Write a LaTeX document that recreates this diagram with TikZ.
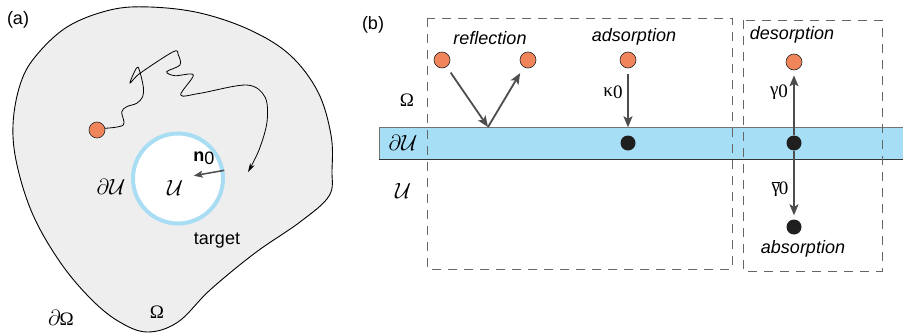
\documentclass[tikz,border=0pt]{standalone}
\usepackage{fix-cm}
\usepackage[no-math]{fontspec}
\setmainfont{Liberation Sans}
\newfontfamily\serifgr{Liberation Serif}
\usetikzlibrary{arrows.meta}
\definecolor{blobgray}{HTML}{EEEEEE}
\definecolor{ringblue}{HTML}{A9DDF3}
\definecolor{bandblue}{HTML}{A6DEF6}
\definecolor{dotorange}{HTML}{F0845A}
\definecolor{arrowgray}{HTML}{4D4D4D}
\definecolor{dashgray}{HTML}{666666}
\tikzset{
  lbl/.style={font=\fontsize{18}{21}\selectfont, inner sep=0pt},
  mlbl/.style={font=\fontsize{22}{25}\selectfont, inner sep=0pt},
  glbl/.style={font=\fontsize{19}{22}\selectfont\serifgr, inner sep=0pt},
  ilbl/.style={font=\fontsize{18}{21}\selectfont\itshape, inner sep=0pt},
  odot/.style={circle, fill=dotorange, draw=black!85, line width=0.6pt, minimum size=16pt, inner sep=0pt},
  bdot/.style={circle, fill=black!88, minimum size=15pt, inner sep=0pt},
  arr/.style={draw=arrowgray, line width=1.8pt, -{Stealth[length=11pt,width=9pt,inset=2.5pt]}},
  dbox/.style={draw=dashgray, line width=1pt, dash pattern=on 9pt off 7pt},
}
\begin{document}
\begin{tikzpicture}[x=1pt,y=-1pt]
\useasboundingbox (0,0) rectangle (903,335);
% ---------------- (a) ----------------
\node[lbl] (la) at (18,20) {(a)};
\draw[fill=blobgray, line width=0.9pt] plot[smooth cycle, tension=0.6] coordinates {
 (147,332) (118,321) (90,298) (60,262) (33,215) (17,165) (13,125) (20,85)
 (35,57) (67,27) (110,10) (150,7) (200,13) (250,30) (290,55) (318,92)
 (331,135) (332,170) (329,196) (300,222) (255,253) (210,290) (178,322)};
\node[circle, draw=ringblue, line width=4pt, fill=white, minimum size=90pt, inner sep=0pt] (target) at (178,178.5) {};
\node[odot] (walker) at (97,130) {};
\draw[line width=0.8pt, -{Stealth[length=9pt,width=5pt]}] plot[smooth, tension=0.55] coordinates {
 (walker.12) (123.3,125) (121.7,112) (126.7,106.7) (136.7,103.3) (142.7,96.7) (143.3,86.7)
 (139.3,70) (136.5,68) (130,83) (140,73.3) (173.3,51.7) (178.3,55) (180,65)
 (166.7,71.7) (175,75.7) (193.3,75) (180.7,95) (200,93.3) (246.7,85) (265,97)
 (267,122) (259,150) (248,172)};
\draw[draw=arrowgray, line width=1.5pt, -{Stealth[length=9pt,width=7pt,inset=2pt]}, shorten >=16pt] (target.10) -- (target.center);
\node[lbl] (n0) at (204,158) {\textbf{n}\raisebox{-0.35ex}{0}};
\node[mlbl] (uin) at (175,188) {$\mathcal{U}$};
\node[mlbl] (dua) at (111,187) {$\partial\mathcal{U}$};
\node[lbl] (tg) at (217,241) {target};
\node[mlbl] (dO) at (61,318) {$\partial$\kern-1pt{\serifgr\fontsize{19}{22}\selectfont Ω}};
\node[glbl] (Om) at (157,312) {Ω};
% ---------------- (b) ----------------
\node[lbl] (lb) at (373,25) {(b)};
\fill[bandblue] (379,127) rectangle (903,159);
\draw[line width=1pt, draw=black!55] (903,127) -- (379,127) -- (379,159);
\draw[line width=1pt, draw=black!80] (379,159) -- (903,159);
\draw[dbox] (427,18) rectangle (732,269);
\draw[dbox] (743,20) rectangle (882,271);
\node[glbl] (bOm) at (407,100) {Ω};
\node[mlbl] (bdU) at (403,143) {$\partial\mathcal{U}$};
\node[mlbl] (bU) at (403,191) {$\mathcal{U}$};
% reflection
\node[ilbl] (trefl) at (490,38) {reflection};
\node[odot] (r1) at (442,60) {};
\node[odot] (r2) at (528,60) {};
\coordinate (rp) at (488,127);
\draw[arr, shorten <=7pt] (r1) -- (rp);
\draw[arr, shorten >=7pt] (rp) -- (r2);
% adsorption
\node[ilbl] (tads) at (634,37) {adsorption};
\node[odot] (a1) at (628,60) {};
\node[bdot] (a2) at (628,143) {};
\draw[arr, shorten <=6pt, shorten >=8pt] (a1) -- (a2);
\node[glbl] (kap) at (613,92) {κ\raisebox{-0.25ex}{0}};
% desorption / absorption
\node[ilbl] (tdes) at (792,35) {desorption};
\node[odot] (d1) at (794,62) {};
\node[bdot] (d2) at (794,143) {};
\node[bdot] (d3) at (794,227) {};
\draw[arr, shorten >=5pt] (d2) -- (d1);
\draw[arr, shorten >=4pt] (d2) -- (d3);
\node[glbl] (gam) at (779,92) {γ\raisebox{-0.25ex}{0}};
\node[glbl] (gamb) at (780,189) {$\overline{\hbox{\serifgr γ}}$\kern-1pt\raisebox{-0.25ex}{0}};
\node[ilbl] (tabs) at (803,249) {absorption};
\end{tikzpicture}
\end{document}
